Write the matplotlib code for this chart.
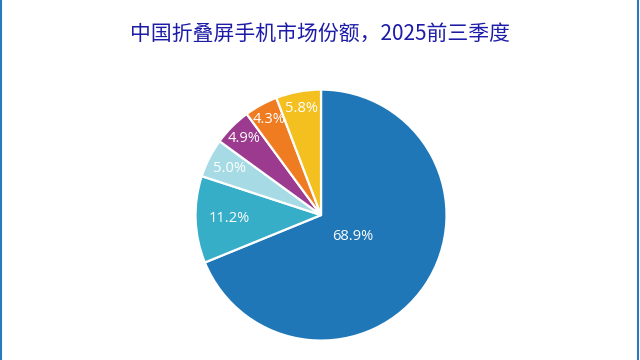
import numpy as np
import matplotlib.pyplot as plt
from matplotlib.lines import Line2D

plt.rcParams['font.family'] = ['Noto Sans CJK SC', 'DejaVu Sans']

title = '中国折叠屏手机市场份额，2025前三季度'
shares = [68.9, 11.2, 5.0, 4.9, 4.3, 5.8]
labels = ['68.9%', '11.2%', '5.0%', '4.9%', '4.3%', '5.8%']
colors = ['#1f77b8', '#36aec8', '#a6dbe5', '#9b3a8e', '#f07c22', '#f4c01f']
label_r = [0.3, 0.73, 0.82, 0.87, 0.87, 0.86]

fig = plt.figure(figsize=(6.4, 3.6), dpi=100)
ax = fig.add_axes([0.3016, 0.047, 0.4, 0.7111])
wedges, _ = ax.pie(shares, colors=colors, startangle=90, counterclock=False,
                   radius=1, wedgeprops=dict(edgecolor='white', linewidth=1.6))
ax.set_xlim(-1.02, 1.02)
ax.set_ylim(-1.02, 1.02)
ax.set_aspect('equal')
ax.axis('off')

for w, lab, r in zip(wedges, labels, label_r):
    ang = np.deg2rad((w.theta1 + w.theta2) / 2)
    ax.text(r * np.cos(ang), r * np.sin(ang), lab, color='white', fontsize=10.5,
            ha='center', va='center', family=['Open Sans', 'DejaVu Sans'])

fig.text(0.5, 0.905, title, ha='center', va='center', fontsize=15, color='#1c1ca8')

fig.add_artist(Line2D([0.002, 0.002], [0, 1], transform=fig.transFigure, color='#2a78c0', lw=1.5))
fig.add_artist(Line2D([0.9975, 0.9975], [0, 1], transform=fig.transFigure, color='#2a78c0', lw=1.5))

fig.savefig('out.png', dpi=100, facecolor='white')
